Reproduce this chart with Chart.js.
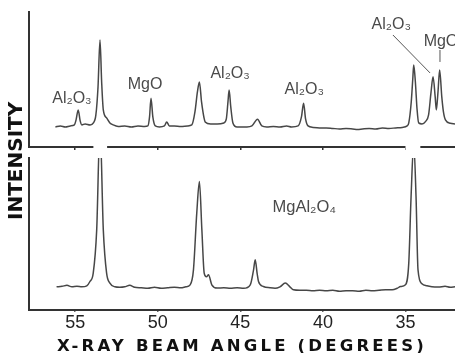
<!DOCTYPE html>
<html><head><meta charset="utf-8">
<script src="https://cdn.jsdelivr.net/npm/chart.js@4"></script>
<style>html,body{margin:0;padding:0;background:#fff}#wrap{width:455px;height:353px;position:relative}</style>
</head><body><div id="wrap"><canvas id="c" width="455" height="353"></canvas></div>
<script>
// ---- data (angles in degrees, intensities in arbitrary units) ----
const tickValues = [55, 50, 45, 40, 35];

const topAngle = [56.2, 55.9, 55.6, 55.3, 55.05, 54.95, 54.82, 54.7, 54.6, 54.4, 54.1, 53.9, 53.75, 53.62, 53.5, 53.4, 53.3, 53.1, 52.9, 52.7, 52.4, 52.0, 51.6, 51.2, 50.8, 50.6, 50.5, 50.41, 50.3, 50.15, 49.9, 49.6, 49.46, 49.3, 49.0, 48.6, 48.2, 47.94, 47.75, 47.6, 47.48, 47.35, 47.2, 47.13, 46.8, 46.4, 46.0, 45.85, 45.75, 45.68, 45.58, 45.45, 45.2, 45.0, 44.6, 44.3, 43.96, 43.7, 43.4, 43.0, 42.6, 42.2, 41.9, 41.5, 41.3, 41.17, 41.05, 40.9, 40.6, 40.2, 39.8, 39.4, 39.0, 38.6, 38.2, 37.9, 37.6, 37.2, 36.8, 36.4, 36.0, 35.6, 35.2, 34.9, 34.8, 34.65, 34.55, 34.5, 34.4, 34.3, 34.2, 34.0, 33.79, 33.6, 33.45, 33.33, 33.2, 33.13, 33.03, 32.93, 32.8, 32.7, 32.58, 32.28, 32.0];
const topIntensity = [20, 21, 20, 21, 22, 27, 37, 26, 22, 23, 22, 24, 32, 60, 107, 65, 37, 29, 24, 22, 20.5, 21, 20, 21, 20.5, 21, 30, 48.7, 30, 21, 20, 21, 25, 21, 21, 20.5, 21, 22, 35, 55, 65, 45, 29, 25, 23, 23, 24, 28, 45, 57, 40, 24, 20, 20, 20, 21, 27.7, 21, 20, 20.5, 20, 21, 20, 21, 30, 43.7, 28, 21, 19.5, 19, 19, 18.5, 18, 18.5, 18, 17.5, 18, 18.5, 18, 19, 18.5, 19, 19.5, 21, 24, 45, 70, 82, 65, 38, 24, 23, 25.3, 32, 55, 70.3, 50, 37, 55, 77, 50, 35, 27, 23.7, 23];

const bottomAngle = [56.13, 55.8, 55.5, 55.2, 54.9, 54.6, 54.3, 54.11, 53.91, 53.7, 53.5, 53.3, 53.1, 52.9, 52.6, 52.3, 52.0, 51.7, 51.4, 51.0, 50.6, 50.2, 49.8, 49.4, 49.0, 48.6, 48.3, 48.04, 47.84, 47.64, 47.48, 47.33, 47.19, 47.05, 46.93, 46.73, 46.4, 46.0, 45.6, 45.2, 44.8, 44.4, 44.2, 44.1, 43.98, 43.9, 43.6, 43.2, 42.9, 42.6, 42.28, 42.0, 41.78, 41.4, 41.0, 40.6, 40.2, 39.8, 39.4, 39.0, 38.6, 38.2, 37.8, 37.4, 37.0, 36.6, 36.2, 35.8, 35.5, 35.3, 35.0, 34.8, 34.66, 34.5, 34.36, 34.24, 34.0, 33.7, 33.4, 33.0, 32.6, 32.3, 32.0];
const bottomIntensity = [23, 23.5, 24.5, 23, 23.5, 23, 24, 28.3, 36.7, 80, 184, 80, 36.7, 26.7, 23, 22.5, 23, 24.5, 22.5, 22, 21.5, 22.5, 21.5, 22, 22.5, 22, 23, 25, 40, 96.7, 128.3, 80, 36.7, 33, 35, 25, 21.7, 22, 21.5, 22, 21.5, 25, 40, 50, 36, 28.3, 23.3, 22, 21.5, 23, 26.7, 23, 20, 19.5, 19.5, 19, 19.5, 19, 19.5, 18.5, 19, 19, 18.5, 19.5, 19, 19.5, 20, 20, 21.5, 23.3, 25, 46.7, 113.3, 166.7, 113.3, 40, 26, 24, 23, 22.7, 23.5, 22.5, 23];

// peak labels: text, anchor angle, anchor intensity, panel axis
const labelTexts  = ['Al₂O₃', 'MgO', 'Al₂O₃', 'Al₂O₃', 'Al₂O₃', 'MgO', 'MgAl₂O₄'];
const labelAngles = [55.2, 50.77, 45.62, 41.13, 35.86, 32.85, 41.13];
const labelLevels = [48, 62, 73, 57, 122, 105, 102];
const labelAxes   = ['yTop', 'yTop', 'yTop', 'yTop', 'yTop', 'yTop', 'yBot'];
// leader lines (angle, intensity) pairs on the top panel
const leaderFrom = [[35.76, 112], [32.91, 97]];
const leaderTo   = [[33.51, 74], [32.91, 85]];
// where the bottom-panel peaks break through the top panel's axis
const axisBreaks = [[53.9, 53.07], [35.0, 34.1]];

const toPoints = (xs, ys) => xs.map((x, i) => ({x, y: ys[i]}));

const AXIS_COLOR = '#333';
const TRACE_COLOR = '#474747';

const setTicks = s => { s.ticks = tickValues.map(v => ({value: v})); };
const hiddenY = (weight, max) => ({
  type: 'linear', position: 'left', stack: 'panels', stackWeight: weight,
  min: 0, max: max,
  grid: {display: false, drawTicks: false},
  ticks: {display: false},
  border: {display: true, color: AXIS_COLOR, width: 2},
  afterFit: s => { s.width = 0; }
});

const spacedAxisTitle = {
  id: 'spacedAxisTitle',
  beforeDraw(chart) {
    const s = chart.scales.x;
    if (s.__spaced) return;
    const orig = s.drawTitle;
    s.drawTitle = function () {
      this.ctx.save();
      this.ctx.letterSpacing = '3.2px';
      orig.call(this);
      this.ctx.restore();
    };
    s.__spaced = true;
  }
};

const panelExtras = {
  id: 'panelExtras',
  beforeDatasetsDraw(chart) {
    const {ctx, scales} = chart;
    const y = scales.yTop.getPixelForValue(0);
    ctx.save();
    ctx.fillStyle = '#fff';
    axisBreaks.forEach(([a, b]) => {
      const x1 = scales.xTop.getPixelForValue(a);
      const x2 = scales.xTop.getPixelForValue(b);
      ctx.fillRect(Math.min(x1, x2), y - 4, Math.abs(x2 - x1), 8);
    });
    ctx.restore();
  },
  afterDatasetsDraw(chart) {
    const {ctx, scales} = chart;
    ctx.save();
    ctx.textAlign = 'center';
    ctx.textBaseline = 'middle';
    ctx.fillStyle = '#4a4a4a';
    labelTexts.forEach((t, i) => {
      const x = scales.x.getPixelForValue(labelAngles[i]);
      const y = scales[labelAxes[i]].getPixelForValue(labelLevels[i]);
      ctx.font = (labelAxes[i] === 'yBot' ? '16.5px' : '16px') + ' "Liberation Sans", Arial, sans-serif';
      ctx.fillText(t, x, y);
    });
    ctx.strokeStyle = '#555';
    ctx.lineWidth = 1;
    leaderFrom.forEach((f, i) => {
      ctx.beginPath();
      ctx.moveTo(scales.x.getPixelForValue(f[0]), scales.yTop.getPixelForValue(f[1]));
      ctx.lineTo(scales.x.getPixelForValue(leaderTo[i][0]), scales.yTop.getPixelForValue(leaderTo[i][1]));
      ctx.stroke();
    });
    ctx.restore();
  }
};

new Chart(document.getElementById('c'), {
  type: 'line',
  data: {
    datasets: [
      {label: 'Al2O3 + MgO', data: toPoints(topAngle, topIntensity), yAxisID: 'yTop',
       borderColor: TRACE_COLOR, borderWidth: 1.5, pointRadius: 0, cubicInterpolationMode: 'monotone', fill: false},
      {label: 'MgAl2O4', data: toPoints(bottomAngle, bottomIntensity), yAxisID: 'yBot',
       borderColor: TRACE_COLOR, borderWidth: 1.5, pointRadius: 0, cubicInterpolationMode: 'monotone', fill: false}
    ]
  },
  options: {
    responsive: false, animation: false, devicePixelRatio: 1,
    layout: {padding: {left: 5, top: 12, right: 0, bottom: 0}},
    plugins: {legend: {display: false}, tooltip: {enabled: false}, title: {display: false}},
    scales: {
      x: {
        type: 'linear', position: 'bottom', reverse: true, min: 32, max: 57.8,
        afterBuildTicks: setTicks,
        grid: {display: true, drawOnChartArea: false, drawTicks: true, tickLength: 2, color: AXIS_COLOR, lineWidth: 1.5},
        border: {display: true, color: AXIS_COLOR, width: 2},
        ticks: {display: true, padding: 0, color: '#222', maxRotation: 0,
                font: {family: '"Liberation Sans", Arial, sans-serif', size: 18}},
        title: {display: true, text: 'X-RAY BEAM ANGLE (DEGREES)', color: '#111',
                font: {family: '"DejaVu Sans", sans-serif', size: 16.5, weight: 'bold', lineHeight: 0.8},
                padding: {top: 6.4, bottom: 0}}
      },
      xTop: {
        type: 'linear', position: {yTop: 0}, reverse: true, min: 32, max: 57.8,
        afterBuildTicks: setTicks,
        grid: {display: true, drawOnChartArea: false, drawTicks: true, tickLength: 2, color: AXIS_COLOR, lineWidth: 1.5},
        border: {display: true, color: AXIS_COLOR, width: 2},
        ticks: {display: false}
      },
      yBot: hiddenY(152, 152),
      yGap: Object.assign(hiddenY(11, 1), {border: {display: false}}),
      yTop: hiddenY(135, 135),
      yTitle: {
        type: 'linear', position: 'left', min: 0, max: 1,
        grid: {display: false, drawTicks: false},
        border: {display: false},
        ticks: {display: false},
        title: {display: true, text: 'INTENSITY', color: '#111', padding: 0,
                font: {family: '"DejaVu Sans", sans-serif', size: 20, weight: 'bold'}}
      }
    }
  },
  plugins: [spacedAxisTitle, panelExtras]
});
</script>
</body></html>
